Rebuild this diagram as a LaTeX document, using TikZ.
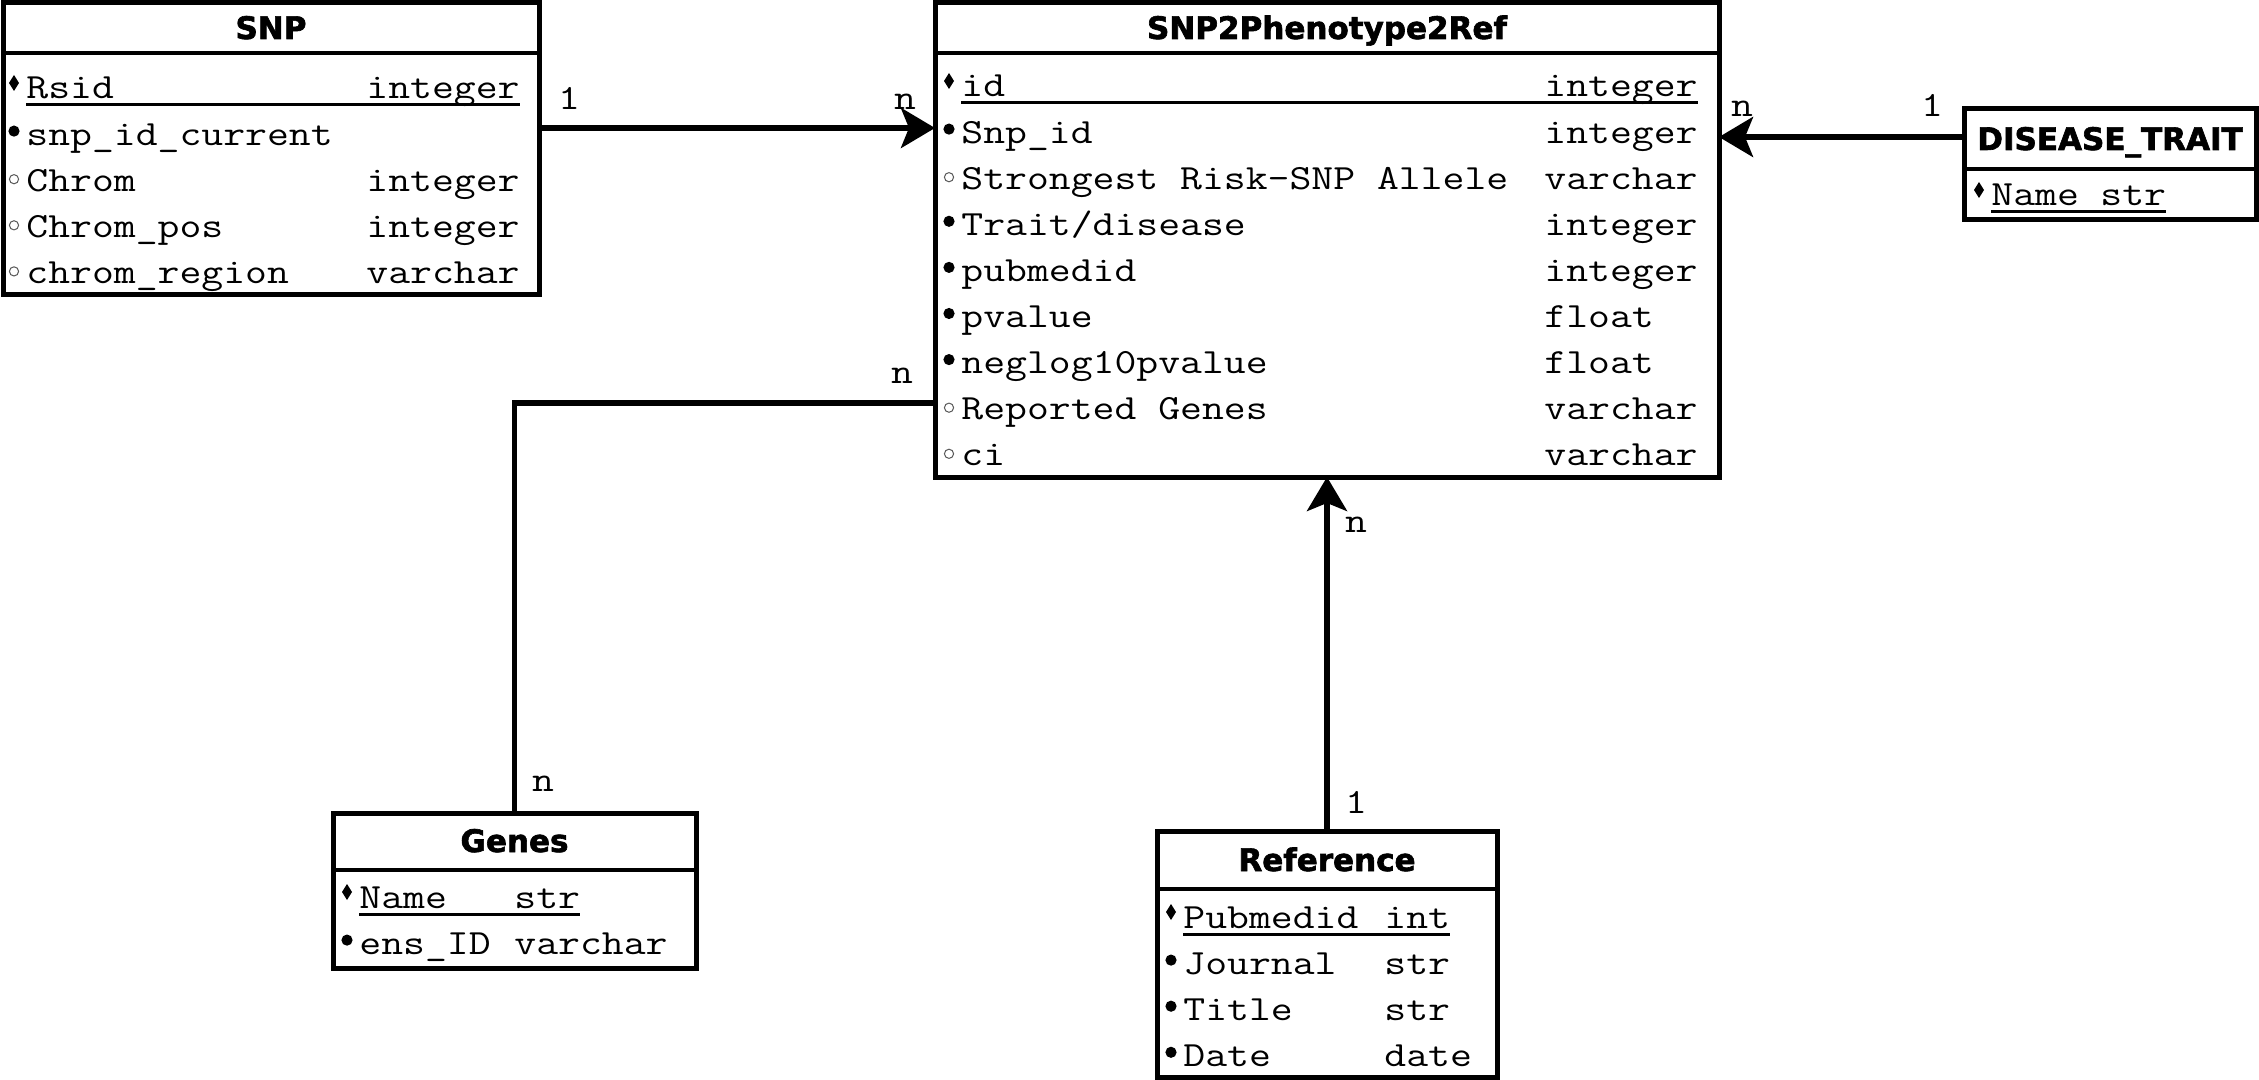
\documentclass[tikz,border=0pt]{standalone}
\usepackage{fontspec}
\setmonofont{Latin Modern Mono}[FakeStretch=1.2]
\setsansfont{DejaVu Sans}[BoldFeatures={FakeBold=2}]
\usetikzlibrary{arrows.meta}

\newcommand\fieldmark[3]{%
  \ifcase#1\relax
    \fill (#2,#3-24) -- (#2+5,#3-16) -- (#2,#3-8) -- (#2-5,#3-16) -- cycle;
  \or
    \fill (#2,#3-14) circle[radius=2.8pt];
  \or
    \draw[line width=0.5pt,black!65] (#2,#3-12) circle[radius=2.3pt];
  \fi}

\newcommand\entrows[5]{%
  \foreach \fn/\ft/\fm [count=\i from 0] in {#5} {
    \pgfmathsetmacro\yb{#4+46.1*\i}
    \fieldmark{\fm}{#2-12}{\yb}
    \node[fld] (#1n\i) at (#2,\yb) {\fn};
    \node[fld] (#1t\i) at (#3,\yb) {\ft};
  }}

\begin{document}
\begin{tikzpicture}[x=0.5pt,y=-0.5pt,
  ent/.style={draw, line width=2.5pt, rectangle, anchor=north west, inner sep=0pt, outer sep=0pt},
  hdr/.style={font=\sffamily\bfseries\fontsize{15.5}{18}\selectfont, inner sep=0pt, anchor=base},
  fld/.style={font=\ttfamily\fontsize{17.7}{22}\selectfont, inner sep=0pt, anchor=base west},
  card/.style={font=\ttfamily\fontsize{17.7}{22}\selectfont, inner sep=0pt, anchor=base},
  sepline/.style={line width=2.2pt},
  ul/.style={line width=1.5pt},
  conn/.style={line width=2.8pt},
  arr/.style={line width=2.8pt, -{Stealth[length=17pt,width=20pt,inset=4pt]}}
]
\fill[white] (0,0) rectangle (2259,1080);
\useasboundingbox (0,0) rectangle (2259,1080);

% ---------- SNP ----------
\node[ent, minimum width=268pt, minimum height=146pt] (snp) at (3,3) {};
\draw[sepline] (snp.west |- 0,53) -- (snp.east |- 0,53);
\node[hdr] (snph) at (271,39) {SNP};
\entrows{snp}{26}{366}{99}{{Rsid}/{integer}/0, {snp\_id\_current}/{}/1, {Chrom}/{integer}/2, {Chrom\_pos}/{integer}/2, {chrom\_region}/{varchar}/2}
\draw[ul] ([yshift=-3pt]snpn0.base west) -- ([yshift=-3pt]snpt0.base east);

% ---------- SNP2Phenotype2Ref ----------
\node[ent, minimum width=392pt, minimum height=237pt] (s2p) at (935,3) {};
\draw[sepline] (s2p.west |- 0,53) -- (s2p.east |- 0,53);
\node[hdr] (s2ph) at (1327,39) {SNP2Phenotype2Ref};
\entrows{s2p}{961}{1544}{97}{{id}/{integer}/0, {Snp\_id}/{integer}/1, {Strongest Risk-SNP Allele}/{varchar}/2, {Trait/disease}/{integer}/1, {pubmedid}/{integer}/1, {pvalue}/{float}/1, {neglog10pvalue}/{float}/1, {Reported Genes}/{varchar}/2, {ci}/{varchar}/2}
\draw[ul] ([yshift=-3pt]s2pn0.base west) -- ([yshift=-3pt]s2pt0.base east);

% ---------- DISEASE_TRAIT ----------
\node[ent, minimum width=146pt, minimum height=55.5pt] (dt) at (1964,109) {};
\draw[sepline] (dt.west |- 0,169) -- (dt.east |- 0,169);
\node[hdr] (dth) at (2110,150) {DISEASE\_TRAIT};
\entrows{dt}{1991}{2100}{206}{{Name}/{str}/0}
\draw[ul] ([yshift=-3pt]dtn0.base west) -- ([yshift=-3pt]dtt0.base east);

% ---------- Genes ----------
\node[ent, minimum width=181.5pt, minimum height=77.5pt] (genes) at (333,813) {};
\draw[sepline] (genes.west |- 0,870) -- (genes.east |- 0,870);
\node[hdr] (genesh) at (514.5,852) {Genes};
\entrows{gen}{359}{514}{908}{{Name}/{str}/0, {ens\_ID}/{varchar}/1}
\draw[ul] ([yshift=-3pt]genn0.base west) -- ([yshift=-3pt]gent0.base east);

% ---------- Reference ----------
\node[ent, minimum width=170pt, minimum height=123pt] (ref) at (1157,831) {};
\draw[sepline] (ref.west |- 0,889) -- (ref.east |- 0,889);
\node[hdr] (refh) at (1327,871) {Reference};
\entrows{ref}{1183}{1384}{928}{{Pubmedid}/{int}/0, {Journal}/{str}/1, {Title}/{str}/1, {Date}/{date}/1}
\draw[ul] ([yshift=-3pt]refn0.base west) -- ([yshift=-3pt]reft0.base east);

% ---------- connectors ----------
\draw[arr] (snp.east |- 0,128) -- (s2p.west |- 0,128);
\draw[arr] (dt.west |- 0,137) -- (s2p.east |- 0,137);
\draw[conn] (s2p.west |- 0,403) -| (genes.north);
\draw[arr] (ref.north) -- (ref.north |- s2p.south);

% ---------- cardinalities ----------
\node[card] (c1) at (569,110) {1};
\node[card] (c2) at (905,110) {n};
\node[card] (c3) at (1742,117) {n};
\node[card] (c4) at (1932,117) {1};
\node[card] (c5) at (902,384) {n};
\node[card] (c6) at (543,791) {n};
\node[card] (c7) at (1356,532) {n};
\node[card] (c8) at (1356,813) {1};
\end{tikzpicture}
\end{document}
